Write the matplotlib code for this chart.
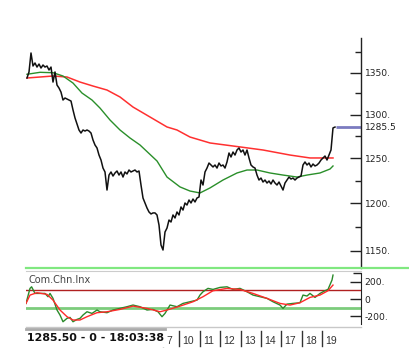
import matplotlib
matplotlib.use("Agg")
import matplotlib.pyplot as plt
import matplotlib.ticker as mticker
from matplotlib.lines import Line2D
from matplotlib.patches import Rectangle
from matplotlib.transforms import blended_transform_factory

# ---------------- data ----------------
price = [
    1343.6, 1350.9, 1374.2, 1358.2, 1361.9, 1356.9, 1360.6, 1355.7, 1359.4, 1356.9,
    1358.2, 1353.3, 1356.9, 1338.7, 1350.9, 1335.1, 1331.5, 1326.6, 1317.2, 1319.6,
    1318.4, 1317.2, 1316.0, 1305.5, 1296.1, 1289.1, 1282.1, 1278.6, 1282.1, 1280.9,
    1282.1, 1280.9, 1278.6, 1270.6, 1264.9, 1261.5, 1253.5, 1247.9, 1238.9, 1234.5,
    1214.6, 1231.1, 1234.5, 1230.0, 1233.4, 1235.6, 1231.1, 1234.5, 1228.9, 1234.5,
    1232.3, 1236.7, 1234.5, 1235.6, 1236.7, 1234.5, 1235.6, 1220.1, 1205.9, 1200.5,
    1195.1, 1190.8, 1188.7, 1189.8, 1189.8, 1187.6, 1176.9, 1155.9, 1150.7, 1169.5,
    1173.7, 1182.2, 1180.1, 1187.6, 1184.4, 1190.8, 1187.6, 1196.2, 1192.9, 1200.5,
    1198.3, 1203.7, 1200.5, 1204.8, 1201.6, 1205.9, 1207.0, 1225.6, 1220.1, 1234.5,
    1238.9, 1244.5, 1242.3, 1240.1, 1242.3, 1238.9, 1244.5, 1241.2, 1242.3, 1238.9,
    1245.7, 1255.8, 1251.3, 1256.9, 1253.5, 1259.2, 1261.5, 1256.9, 1259.2, 1253.5,
    1259.2, 1250.2, 1242.3, 1240.1, 1238.9, 1231.1, 1225.6, 1227.8, 1223.4, 1225.6,
    1222.3, 1224.5, 1221.2, 1225.6, 1222.3, 1220.1, 1223.4, 1219.0, 1214.6, 1222.3,
    1225.6, 1228.9, 1226.7, 1227.8, 1225.6, 1227.8, 1228.9, 1230.0, 1242.3, 1245.7,
    1242.3, 1244.5, 1240.1, 1243.4, 1241.2, 1242.3, 1244.5, 1247.9, 1250.2, 1252.4,
    1247.9, 1253.5, 1259.2, 1284.5, 1285.5,
]
last_price = 1285.5

ma_slow_bar = [0, 6.5, 13, 20, 26.5, 33, 40, 46.5, 53, 61.5, 70, 75, 81.5, 91.5,
               106.5, 118, 131.5, 141.5, 153]
ma_slow = [1343.6, 1344.8, 1346.0, 1344.8, 1338.7, 1333.9, 1329.1, 1320.8, 1308.9,
           1297.2, 1285.6, 1282.1, 1274.0, 1267.2, 1262.7, 1259.2, 1253.5, 1250.2, 1250.2]

ma_fast_bar = [0, 6.5, 13, 18, 23, 27.5, 32.5, 36.5, 41.5, 46.5, 51.5, 56.5, 65, 70,
               76.5, 81.5, 86.5, 91.5, 98, 105, 110, 115, 121.5, 128, 135, 140, 146.5,
               151.5, 153]
ma_fast = [1348.1, 1350.5, 1350.0, 1346.0, 1337.5, 1325.5, 1317.2, 1307.7, 1293.7,
           1282.1, 1272.9, 1264.9, 1246.8, 1228.9, 1218.0, 1213.5, 1211.4, 1216.9,
           1225.6, 1233.4, 1236.7, 1236.7, 1233.4, 1231.1, 1228.9, 1231.1, 1233.4,
           1237.8, 1241.2]

cci_bar = [-0.5, 1.5, 2.3, 4, 6.5, 9, 10.5, 11.5, 13, 15, 16.5, 18, 20, 21.5, 23, 25,
           26.5, 28, 30, 32.5, 35, 36.5, 40, 43, 46.5, 50, 53, 56.5, 60, 63, 65.5,
           67.5, 69, 71.5, 75, 78, 81.5, 85, 86.5, 88, 90.5, 93, 96.5, 100, 103,
           106.5, 110, 113, 116.5, 120, 123, 126.5, 128, 130, 133, 136.5, 138, 140,
           141.5, 144, 146.5, 149, 150.5, 152.5, 153]
cci = [-50, 123, 141, 65, 65, 65, 27, 65, 8, -126, -184, -261, -222, -211, -261, -234,
       -222, -184, -146, -165, -126, -146, -157, -126, -107, -88, -69, -88, -126, -119,
       -146, -203, -165, -69, -88, -50, -31, -12, 46, 84, 123, 111, 134, 141, 111,
       123, 84, 46, 27, 8, -31, -69, -107, -58, -50, -42, 46, 35, 65, 19, 65, 96, 111,
       219, 276]

cci_sig_bar = [-0.5, 1.5, 5, 10, 13, 16.5, 20, 23, 26.5, 30, 35, 40, 46.5, 53, 60,
               66.5, 70, 76.5, 83, 88, 93, 100, 106.5, 113, 120, 126.5, 131.5, 136.5,
               141.5, 146.5, 150.5, 153]
cci_sig = [-50, 46, 73, 54, -12, -126, -203, -241, -241, -203, -157, -146, -119, -81,
           -107, -146, -126, -81, -31, 27, 96, 123, 111, 65, 8, -50, -69, -42, 19, 46,
           96, 161]

cci_upper, cci_lower = 100, -100

day_labels = ["7", "10", "11", "12", "13", "14", "17", "18", "19"]
day_start_bar = [68, 76, 86.5, 96.5, 107, 117, 127, 137.5, 147.5]

price_ticks = [1150, 1200, 1250, 1300, 1350]
price_minor = [1175, 1225, 1275, 1325, 1375]
cci_ticks = [-200, 0, 200]
cci_tick_labels = ["-200.", "0", "200."]
status_text = "1285.50 - 0 - 18:03:38"
panel_title = "Com.Chn.Inx"

# ---------------- layout ----------------
W, H = 409, 362
fig = plt.figure(figsize=(W / 100, H / 100), dpi=100)
fig.patch.set_facecolor("white")

def fx(px):
    return px / W

def fy(py):
    return 1 - py / H

L, R = 26, 361
ax = fig.add_axes([fx(L), fy(268), fx(R - L), (268 - 38) / H])
axc = fig.add_axes([fx(L), fy(324), fx(R - L), (324 - 273) / H])

xs = list(range(len(price)))
xlim = (-0.5, 167)

# main panel
ax.plot(xs, price, color="#111111", lw=1.1, zorder=4)
ax.plot(ma_slow_bar, ma_slow, color="#ff3030", lw=1.1, zorder=3)
ax.plot(ma_fast_bar, ma_fast, color="#2a8f2a", lw=1.0, zorder=3)
ax.set_yscale("log")
ax.set_ylim(1132.2, 1392.9)
ax.set_xlim(*xlim)
ax.plot([len(price) - 0.5, xlim[1]], [last_price, last_price], color="#7b7bc0",
        lw=2, solid_capstyle="butt", clip_on=False, zorder=2)

for s in ["top", "left", "bottom"]:
    ax.spines[s].set_visible(False)
ax.spines["right"].set_color("#222222")
ax.spines["right"].set_linewidth(1)
ax.xaxis.set_visible(False)
ax.yaxis.tick_right()
ax.yaxis.set_major_locator(mticker.FixedLocator(price_ticks))
ax.yaxis.set_minor_locator(mticker.FixedLocator(price_minor))
ax.yaxis.set_major_formatter(mticker.FuncFormatter(lambda v, p: f"{v:.0f}."))
ax.yaxis.set_minor_formatter(mticker.NullFormatter())
ax.tick_params(axis="y", which="major", direction="in", length=8, width=1,
               color="#222222", pad=2.5, labelsize=6.6, labelcolor="#222222")
ax.tick_params(axis="y", which="minor", direction="in", length=4, width=1,
               color="#222222")
ax.annotate(f"{last_price}", xy=(1.0, last_price), xycoords=ax.get_yaxis_transform(),
            xytext=(2.5, 0), textcoords="offset points",
            va="center", ha="left", fontsize=6.6, color="#222222")
ax.set_facecolor("none")

# CCI panel
axc.axhline(cci_upper, color="#b02020", lw=1.0, zorder=1)
axc.axhline(cci_lower, color="#7ccc7c", lw=2.0, zorder=1)
axc.plot(cci_bar, cci, color="#2a8a2a", lw=1.0, zorder=3)
axc.plot(cci_sig_bar, cci_sig, color="#ff2a2a", lw=1.0, zorder=3)
axc.set_xlim(*xlim)
axc.set_ylim(-287, 300)
for s in ["top", "left", "bottom"]:
    axc.spines[s].set_visible(False)
axc.spines["right"].set_color("#222222")
axc.xaxis.set_visible(False)
axc.yaxis.tick_right()
axc.set_yticks(cci_ticks)
axc.set_yticklabels(cci_tick_labels)
axc.yaxis.set_minor_locator(mticker.FixedLocator([300]))
axc.tick_params(axis="y", which="major", direction="in", length=8, width=1,
                color="#222222", pad=2.5, labelsize=6.6, labelcolor="#222222")
axc.tick_params(axis="y", which="minor", direction="in", length=6, width=1,
                color="#222222")
axc.set_facecolor("none")
fig.text(fx(29), fy(280), panel_title, fontsize=7, color="#444444", va="center",
         ha="left")

# separators
fig.add_artist(Line2D([fx(L), 1], [fy(268), fy(268)], color="#80e880", lw=1.6))
fig.add_artist(Line2D([fx(L), fx(R)], [fy(270.5), fy(270.5)], color="#cccccc", lw=0.8))
fig.add_artist(Line2D([fx(L), fx(R)], [fy(327), fy(327)], color="#c8c8c8", lw=1.0))

# day separators and labels
tr = blended_transform_factory(axc.transData, fig.transFigure)
for lab, b in zip(day_labels, day_start_bar):
    fig.add_artist(Line2D([b, b], [fy(331), fy(346)], color="#333333", lw=1.0,
                          transform=tr, zorder=2))
    fig.text(b + 1.6, fy(341.5), lab, transform=tr, fontsize=7.5,
             family="Liberation Sans", color="#333333", va="center", ha="left",
             zorder=2)

# status box
fig.add_artist(Rectangle((fx(L), fy(347)), fx(165 - L), (347 - 328) / H,
                         transform=fig.transFigure, facecolor="white",
                         edgecolor="none", zorder=5))
fig.add_artist(Line2D([fx(L), fx(165)], [fy(328.5), fy(328.5)], color="#aaaaaa",
                      lw=2.0, zorder=6))
fig.text(fx(27), fy(338.2), status_text, fontsize=7.9, fontweight="bold",
         color="#111111", va="center", ha="left", zorder=7)

fig.savefig("out.png", dpi=100, facecolor="white")
